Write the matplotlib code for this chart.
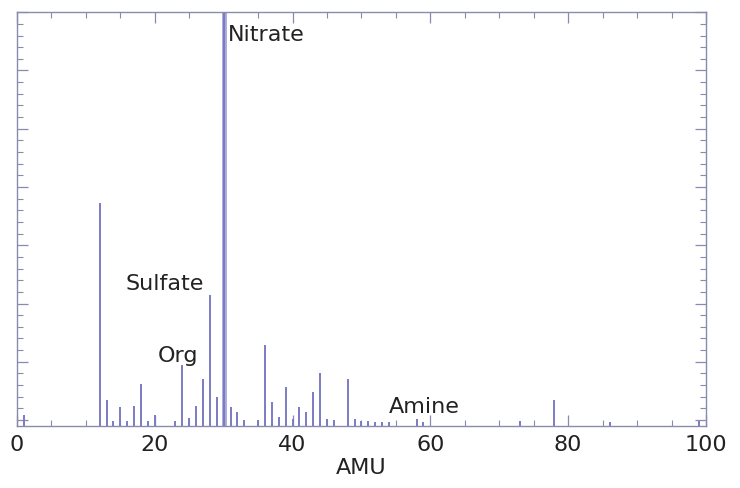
import numpy as np
import matplotlib.pyplot as plt
from matplotlib.ticker import MultipleLocator, NullFormatter

# stick spectrum (arbitrary intensity units)
amu = [1, 12, 13, 14, 15, 16, 17, 18, 19, 20, 23, 24, 25, 26, 27, 28, 29, 30,
       31, 32, 33, 35, 36, 37, 38, 39, 40, 41, 42, 43, 44, 45, 46, 48, 49,
       50, 51, 52, 53, 54, 58, 59, 73, 78, 86, 99]
intensity = [0.18, 3.83, 0.44, 0.09, 0.33, 0.09, 0.35, 0.72, 0.09, 0.18, 0.09,
             1.04, 0.14, 0.35, 0.81, 2.25, 0.50, 8.0, 0.33, 0.24, 0.10, 0.10,
             1.38, 0.41, 0.15, 0.67, 0.12, 0.33, 0.24, 0.59, 0.90, 0.12, 0.10,
             0.81, 0.12, 0.08, 0.08, 0.06, 0.07, 0.07, 0.12, 0.07, 0.08, 0.44,
             0.07, 0.08]

labels = ["Nitrate", "Sulfate", "Org", "Amine"]
label_x = [30.6, 21.5, 23.3, 59.1]
label_y = [6.62, 2.35, 1.12, 0.25]
label_ha = ["left", "center", "center", "center"]

base = -0.1
line_color = "#7b7bc4"
axis_color = "#8a8aae"

fig = plt.figure(figsize=(7.4, 4.89), dpi=100)
ax = fig.add_axes([0.023, 0.127, 0.931, 0.846])

ax.vlines(amu, base, base + np.array(intensity), color=line_color, lw=1.4)
ax.vlines([30], base, 8, color="#a9a9dc", lw=3.5, zorder=1)

for txt, x, y, ha in zip(labels, label_x, label_y, label_ha):
    ax.text(x, y, txt, ha=ha, va="center", fontsize=16, color="#222222")

ax.set_xlim(0, 100)
ax.set_ylim(base, 7.0)
ax.set_xlabel("AMU", fontsize=16, labelpad=2, color="#222222")

ax.xaxis.set_major_locator(MultipleLocator(20))
ax.xaxis.set_minor_locator(MultipleLocator(5))
ax.yaxis.set_major_locator(MultipleLocator(1))
ax.yaxis.set_minor_locator(MultipleLocator(0.2))
ax.yaxis.set_major_formatter(NullFormatter())

ax.tick_params(which="both", direction="in", top=True, right=True,
               color=axis_color, labelsize=16, labelcolor="#222222")
ax.tick_params(which="major", length=8, width=0.9, pad=6)
ax.tick_params(which="minor", length=4, width=0.8)

for s in ax.spines.values():
    s.set_color(axis_color)
    s.set_linewidth(1.0)

fig.savefig("out.png", dpi=100)
